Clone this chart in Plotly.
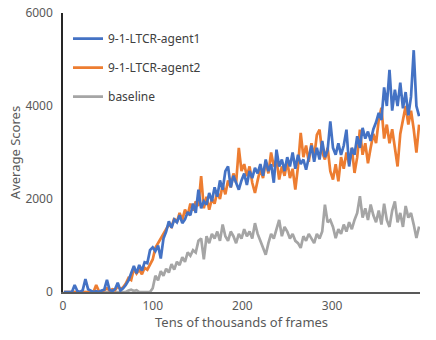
import plotly.graph_objects as go

# frames (tens of thousands), one sample every 3 units
frames = list(range(1, 398, 3))

agent1 = [
    0, 0, 0, 0, 150, 20, 0, 40, 280, 60,
    30, 0, 20, 0, 30, 50, 260, 40, 20, 60,
    200, 30, 80, 150, 250, 420, 560, 400, 580, 460,
    640, 620, 900, 960, 880, 1000, 720, 1150, 1300, 1520,
    1380, 1560, 1500, 1650, 1480, 1560, 1720, 1650, 1900, 1700,
    2200, 1800, 1950, 1880, 2130, 1950, 2250, 2050, 2400, 2200,
    2600, 2700, 2250, 2500, 2350, 2200, 2400, 2550, 2300, 2600,
    2450, 2670, 2550, 2750, 2500, 2850, 2600, 2750, 2350, 3060,
    2700, 2850, 2600, 2900, 2700, 3000, 2650, 2950, 2750, 2850,
    2630, 2900, 3150, 2800, 3100, 2850, 3250, 2900, 3050, 3670,
    3100, 2950, 3200, 2950, 3150, 3490, 2700, 3100, 2950, 3350,
    3100, 3530, 3300, 3450, 3250, 3500, 3650, 3850, 3700, 4400,
    4000, 4780, 3900, 4350, 4000, 4500, 3950, 4300, 3800, 4200,
    5200, 4000, 3780,
]

agent2 = [
    0, 0, 0, 0, 0, 0, 0, 0, 0, 0,
    0, 0, 150, 20, 0, 40, 80, 30, 60, 40,
    120, 60, 100, 180, 300, 260, 500, 400, 480, 380,
    520, 480, 600, 700, 950, 1050, 1150, 1250, 1340, 1450,
    1400, 1580, 1500, 1700, 1550, 1770, 1650, 1900, 1750, 1950,
    1850, 2490, 1800, 2050, 1770, 2000, 1900, 2150, 2000, 2300,
    2100, 2400, 2250, 2550, 2350, 3100, 2600, 2750, 2490, 2700,
    2350, 2130, 2400, 2650, 2450, 2800, 2550, 3000, 2700, 2850,
    2420, 2700, 2500, 2800, 2450, 2650, 2200, 2700, 3420, 2900,
    3150, 2800, 3200, 2900, 3380, 3490, 3000, 2850, 3100, 2600,
    2420, 2750, 2380, 2900, 2650, 3000, 2750, 3100, 2560, 2900,
    3490, 2950, 3200, 2770, 3100, 3400, 3200, 3700, 3960, 3300,
    3600, 3200, 3500, 3100, 2700, 3400, 3700, 4000, 3600, 3900,
    3500, 3000, 3600,
]

baseline = [
    0, 0, 0, 0, 0, 0, 0, 0, 0, 0,
    0, 0, 0, 0, 0, 0, 0, 0, 0, 0,
    0, 0, 0, 0, 30, 50, 20, 40, 0, 0,
    0, 0, 0, 80, 350, 250, 450, 350, 500, 420,
    600, 480, 650, 580, 750, 650, 850, 780, 900, 850,
    1100, 1150, 700, 1200, 1050, 1250, 1150, 1300, 1100, 1450,
    1200, 1100, 1300, 1200, 1050, 1250, 1150, 1350, 1200, 1300,
    1150, 1480, 1250, 1100, 950, 800, 1050, 1250, 1150, 1350,
    1550, 1200, 1400, 1300, 1150, 1250, 1100, 1050, 950, 1200,
    1100, 1250, 1150, 1050, 1250, 1150, 1300, 1880, 1500, 1550,
    1400, 1160, 1350, 1250, 1450, 1300, 1500, 1350, 1550, 1700,
    2060, 1600, 1800, 1550, 1880, 1650, 1500, 1750, 1450, 1900,
    1550, 1400, 1750, 1950, 1500, 1700, 1400, 1850, 1600, 1700,
    1450, 1160, 1410,
]

series = [
    ("9-1-LTCR-agent1", agent1, "#4472C4"),
    ("9-1-LTCR-agent2", agent2, "#ED7D31"),
    ("baseline", baseline, "#A5A5A5"),
]

fig = go.Figure()
# gray drawn first so the agents sit on top; legendrank keeps the legend order
for rank, (name, vals, col) in reversed(list(enumerate(series))):
    fig.add_trace(go.Scatter(
        x=frames, y=vals, name=name, mode="lines",
        line=dict(color=col, width=2.7),
        legendgroup=name, legendrank=rank + 1,
    ))

fig.update_layout(
    width=436, height=340,
    margin=dict(l=63, r=16, t=13, b=48),
    plot_bgcolor="white", paper_bgcolor="white",
    font=dict(family="Noto Sans", size=12, color="#595959"),
    showlegend=True,
    legend=dict(
        x=0.014, y=0.96, xanchor="left", yanchor="top",
        font=dict(size=12, color="#404040"),
        bgcolor="rgba(0,0,0,0)", tracegroupgap=10,
    ),
)
fig.update_xaxes(
    range=[0, 398], tickvals=[0, 100, 200, 300],
    showgrid=False, zeroline=False, automargin=False,
    showline=True, linecolor="#595959", linewidth=1.5,
    ticks="", ticklabelstandoff=2,
    tickfont=dict(size=12, color="#595959"),
)
fig.update_yaxes(
    range=[0, 6000], tickvals=[0, 2000, 4000, 6000],
    showgrid=False, zeroline=False, automargin=False,
    showline=True, linecolor="#262626", linewidth=1.5,
    ticks="", ticklabelstandoff=6,
    tickfont=dict(size=12, color="#595959"),
    title=dict(text="Average Scores", font=dict(size=13, color="#595959"), standoff=2),
)
fig.add_annotation(
    text="Tens of thousands of frames", xref="paper", yref="paper",
    x=0.5, y=-0.108, xanchor="center", yanchor="middle", showarrow=False,
    font=dict(size=13, color="#595959"),
)

# drop the browser's default 8px body margin so the figure fills the window
fig.write_html(
    "out.html",
    config={"displayModeBar": False},
    post_script="document.body.style.margin='0';",
)
